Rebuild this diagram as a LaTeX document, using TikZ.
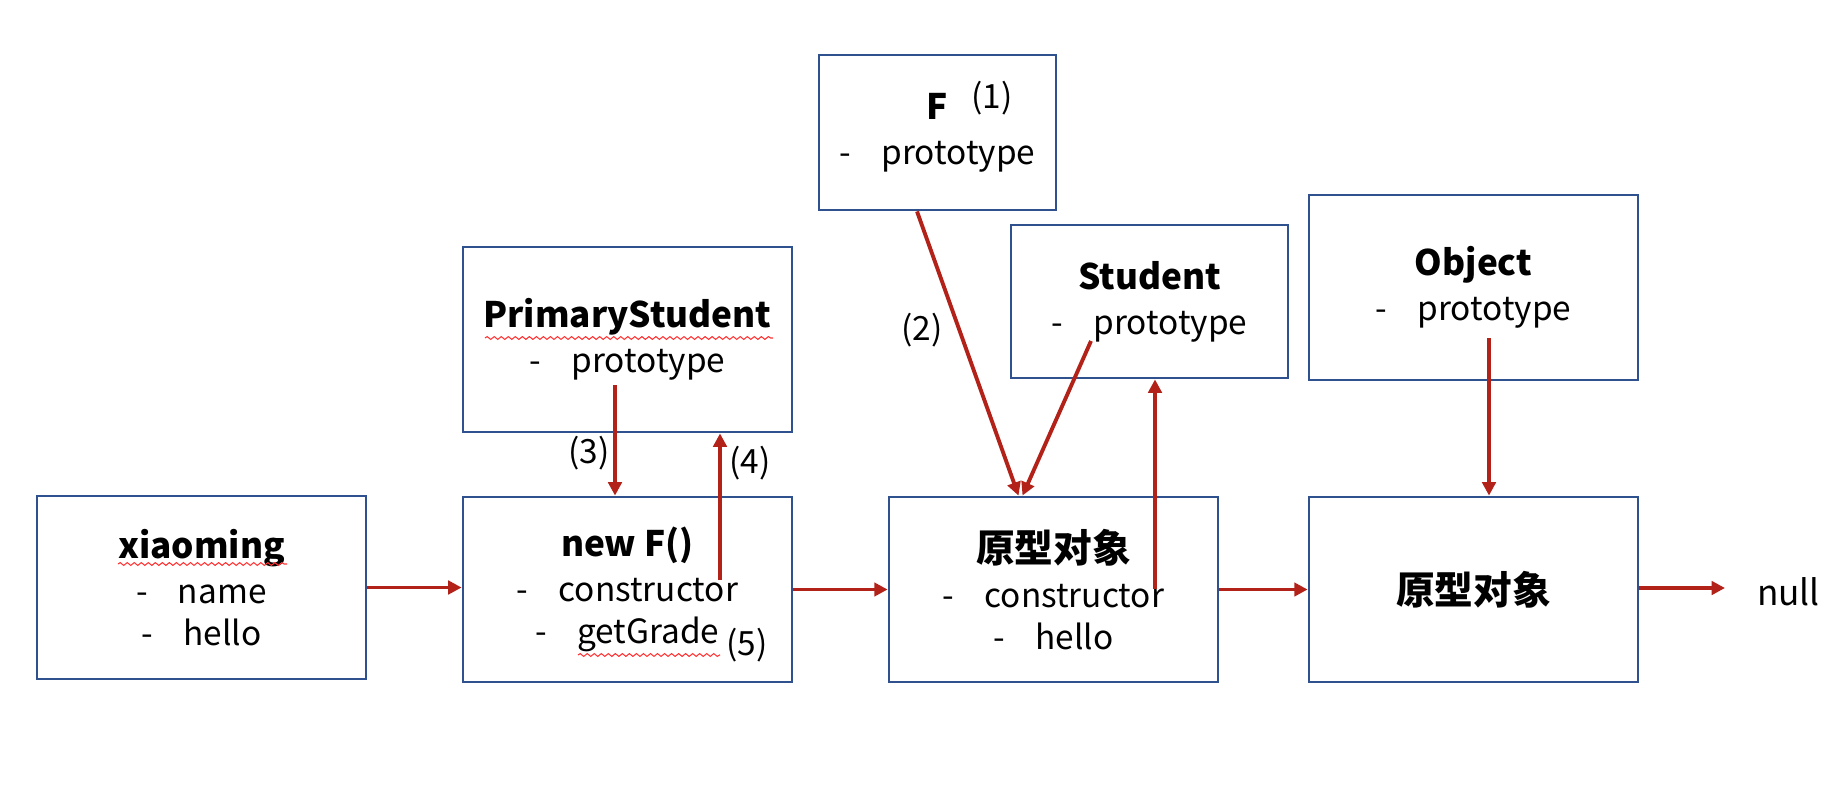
\documentclass[tikz,border=0pt]{standalone}
\usepackage{fontspec}
\setmainfont{Noto Sans CJK SC}
\usetikzlibrary{arrows.meta,decorations.pathmorphing}

\definecolor{boxblue}{RGB}{47,82,143}
\definecolor{arrred}{RGB}{178,34,24}

\newcommand{\hd}[1]{{\fontsize{10}{12}\selectfont\bfseries #1}}
\newcommand{\hdc}[1]{{\fontsize{11}{13}\selectfont\bfseries #1}}
\newcommand{\itm}[1]{-\hspace{0.9em}#1}

\begin{document}
\begin{tikzpicture}[font=\fontsize{9.5}{11.8}\selectfont,
  obj/.style={draw=boxblue, line width=0.8pt, align=center, inner sep=0pt},
  ptr/.style={draw=arrred, line width=1.1pt, -{Triangle[length=3.8pt,width=3.8pt]}},
  num/.style={inner sep=0pt},
  squig/.style={draw=red!80, line width=0.3pt, decorate, decoration={snake,amplitude=0.4pt,segment length=2pt}}]
\useasboundingbox (0,0) rectangle (18.3,7.9);
% Objekte der Kette
\node[obj, minimum width=3.29cm, minimum height=1.83cm] (xm) at (2.015,2.025) {\hd{xiaoming}\\[1pt]\itm{name}\\\itm{hello}};
\node[obj, minimum width=3.29cm, minimum height=1.85cm] (nf) at (6.275,2.005) {\hd{new F()}\\[1pt]\itm{constructor}\\\itm{getGrade}};
\node[obj, minimum width=3.29cm, minimum height=1.85cm] (p1) at (10.535,2.005) {\hdc{原型对象}\\[1pt]\itm{constructor}\\\itm{hello}};
\node[obj, minimum width=3.29cm, minimum height=1.85cm] (p2) at (14.735,2.005) {\hdc{原型对象}};
\node[num, font=\fontsize{10}{12}\selectfont] (null) at (17.885,1.98) {null};
% Konstruktoren
\node[obj, minimum width=2.37cm, minimum height=1.55cm] (F) at (9.375,6.575) {\hd{F}\\[1pt]\itm{prototype}};
\node[obj, minimum width=3.29cm, minimum height=1.85cm] (ps) at (6.275,4.505) {\hd{PrimaryStudent}\\[1pt]\itm{prototype}};
\node[obj, minimum width=2.77cm, minimum height=1.53cm] (st) at (11.495,4.885) {\hd{Student}\\[1pt]\itm{prototype}};
\node[obj, minimum width=3.29cm, minimum height=1.85cm] (ob) at (14.735,5.025) {\hd{Object}\\[1pt]\itm{prototype}};
% Nummern
\node[num] (n1) at (9.92,6.92) {(1)};
\node[num] (n2) at (9.22,4.60) {(2)};
\node[num] (n3) at (5.89,3.37) {(3)};
\node[num] (n4) at (7.50,3.27) {(4)};
\node[num] (n5) at (7.47,1.45) {(5)};
% Rechtschreibmarken
\draw[squig] (1.18,2.26) -- (2.87,2.26);
\draw[squig] (4.85,4.52) -- (7.73,4.52);
\draw[squig] (5.78,1.35) -- (7.20,1.35);
% Hilfspunkte in den Kaesten
\coordinate (psp) at (6.15,4.05);
\coordinate (nfc) at (7.20,2.10);
\coordinate (stp) at (10.91,4.49);
\coordinate (p1c) at (11.55,2.01);
\coordinate (obp) at (14.89,4.52);
\coordinate (nullin) at (17.25,2.02);
% Pfeile
\draw[ptr] (xm.east) -- (xm.east -| nf.west);
\draw[ptr] (nf.east) -- (p1.west);
\draw[ptr] (p1.east) -- (p2.west);
\draw[ptr] (p2.east |- nullin) -- (nullin);
\draw[ptr] (psp) -- (psp |- nf.north);
\draw[ptr] (nfc) -- (nfc |- ps.south);
\draw[ptr] ([xshift=-0.205cm]F.south) -- ([xshift=-0.35cm]p1.north);
\draw[ptr] (stp) -- ([xshift=-0.31cm]p1.north);
\draw[ptr] (p1c) -- (p1c |- st.south);
\draw[ptr] (obp) -- (obp |- p2.north);
\end{tikzpicture}
\end{document}
